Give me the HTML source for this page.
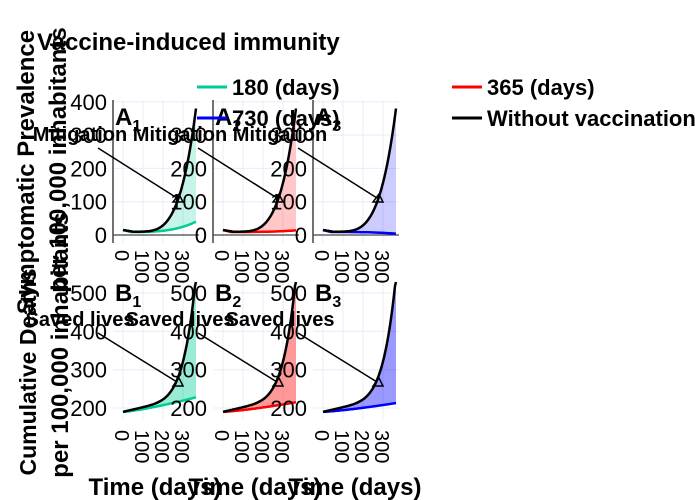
<!DOCTYPE html>
<html><head><meta charset="utf-8"><style>
html,body{margin:0;padding:0;background:#fff;}
svg{display:block;font-family:"Liberation Sans",sans-serif;}
</style></head><body>
<svg id="s" width="700" height="500" viewBox="0 0 700 500"></svg>
<script>
const s=document.getElementById('s');
let h='';
const cols=['#00cc96','#ff0000','#0000ff'];
const fills=['rgba(0,204,150,0.22)','rgba(255,0,0,0.22)','rgba(0,0,255,0.2)'];
const fillsB=['rgba(0,204,150,0.4)','rgba(255,0,0,0.4)','rgba(0,0,255,0.4)'];
const endA=[40,14,4], endB=[228,215,213];
function blackA(d){return d<50?15-5*(d/50):10+370*Math.pow((d-50)/315,4);}
function blackB(d){return 190+0.12*d+310*Math.pow(d/365,6);}
for(let p=0;p<3;p++){
  const x0=113+p*100, xd=d=>x0+10+0.2*d;
  for(let d=0;d<=300;d+=100){h+=`<line x1="${xd(d)}" y1="100" x2="${xd(d)}" y2="243" stroke="#e8ecf8"/>`;h+=`<line x1="${xd(d)}" y1="282" x2="${xd(d)}" y2="420" stroke="#e8ecf8"/>`;}
  const yA=v=>235-0.333*v, yB=v=>408-0.383*(v-200);
  for(let v=0;v<=400;v+=100)h+=`<line x1="${x0}" y1="${yA(v)}" x2="${x0+86}" y2="${yA(v)}" stroke="#e8ecf8"/>`;
  for(let v=200;v<=500;v+=100)h+=`<line x1="${x0}" y1="${yB(v)}" x2="${x0+86}" y2="${yB(v)}" stroke="#e8ecf8"/>`;
  h+=`<line x1="${x0}" y1="${yA(0)}" x2="${x0+86}" y2="${yA(0)}" stroke="#444" stroke-width="1.2"/>`;
  let bA=[],cA=[],bB=[],cB=[];
  for(let d=0;d<=365;d+=5){
    const c=d<40?15-6*d/40:9+(endA[p]-9)*Math.pow((d-40)/325,3);
    bA.push([xd(d),Math.max(100,yA(blackA(d)))]);cA.push([xd(d),yA(c)]);
    bB.push([xd(d),Math.max(282,yB(blackB(d)))]);cB.push([xd(d),yB(190+(endB[p]-190)*Math.pow(d/365,1.3))]);
  }
  const pts=a=>a.map(q=>q[0].toFixed(1)+','+q[1].toFixed(1)).join(' ');
  h+=`<polygon points="${pts(bA)} ${pts(cA.slice().reverse())}" fill="${fills[p]}"/>`;
  h+=`<polygon points="${pts(bB)} ${pts(cB.slice().reverse())}" fill="${fillsB[p]}"/>`;
  h+=`<polyline points="${pts(cA)}" fill="none" stroke="${cols[p]}" stroke-width="2.5"/>`;
  h+=`<polyline points="${pts(cB)}" fill="none" stroke="${cols[p]}" stroke-width="2.5"/>`;
  h+=`<polyline points="${pts(bA)}" fill="none" stroke="#000" stroke-width="2.5"/>`;
  h+=`<polyline points="${pts(bB)}" fill="none" stroke="#000" stroke-width="2.5"/>`;
  h+=`<line x1="${x0}" y1="100" x2="${x0}" y2="243" stroke="#444" stroke-width="1.5"/>`;
  const tx=x0-6;
  for(let v=0;v<=400;v+=100){ if(p>0&&v==400)continue; h+=`<text x="${tx}" y="${yA(v)+8}" font-size="22" text-anchor="end">${v}</text>`;}
  for(let v=200;v<=500;v+=100)h+=`<text x="${tx}" y="${yB(v)+8}" font-size="22" text-anchor="end">${v}</text>`;
  for(let d=0;d<=300;d+=100){
    h+=`<text transform="translate(${xd(d)-8},250) rotate(90)" font-size="20">${d}</text>`;
    h+=`<text transform="translate(${xd(d)-8},430) rotate(90)" font-size="20">${d}</text>`;
  }
  h+=`<text x="${x0+2}" y="125" font-size="24" font-weight="bold">A<tspan font-size="16" dy="6">${p+1}</tspan></text>`;
  h+=`<text x="${x0+2}" y="301" font-size="24" font-weight="bold">B<tspan font-size="16" dy="6">${p+1}</tspan></text>`;
  h+=`<text x="${x0-33}" y="141" font-size="20" font-weight="bold" text-anchor="middle">Mitigation</text>`;
  h+=`<line x1="${x0-15}" y1="148" x2="${x0+64}" y2="198" stroke="#000" stroke-width="1.5"/>`;
  h+=`<polygon points="${x0+70},202 ${x0+60},202 ${x0+66},194" fill="none" stroke="#000" stroke-width="1.5"/>`;
  h+=`<text x="${x0-33}" y="326" font-size="20" font-weight="bold" text-anchor="middle">Saved lives</text>`;
  h+=`<line x1="${x0-15}" y1="333" x2="${x0+64}" y2="382" stroke="#000" stroke-width="1.5"/>`;
  h+=`<polygon points="${x0+70},386 ${x0+60},386 ${x0+66},378" fill="none" stroke="#000" stroke-width="1.5"/>`;
  h+=`<text x="${x0+42}" y="495" font-size="24" font-weight="bold" text-anchor="middle">Time (days)</text>`;
}
h+=`<text x="37" y="50" font-size="24" font-weight="bold">Vaccine-induced immunity</text>`;
const leg=[[197,87,'#00cc96','180 (days)'],[452,87,'#ff0000','365 (days)'],[197,118,'#0000ff','730 (days)'],[452,118,'#000','Without vaccination']];
for(const [x,y,c,t] of leg){h+=`<line x1="${x}" y1="${y}" x2="${x+30}" y2="${y}" stroke="${c}" stroke-width="3"/><text x="${x+35}" y="${y+8}" font-size="22" font-weight="bold">${t}</text>`;}
h+=`<text transform="translate(34,172) rotate(-90)" font-size="24" font-weight="bold" text-anchor="middle">Symptomatic Prevalence</text>`;
h+=`<text transform="translate(66,160) rotate(-90)" font-size="24" font-weight="bold" text-anchor="middle">per 100,000 inhabitants</text>`;
h+=`<text transform="translate(36,372) rotate(-90)" font-size="23" font-weight="bold" text-anchor="middle">Cumulative Deaths</text>`;
h+=`<text transform="translate(68,345) rotate(-90)" font-size="24" font-weight="bold" text-anchor="middle">per 100,000 inhabitants</text>`;
s.innerHTML=h;
</script>
</body></html>
